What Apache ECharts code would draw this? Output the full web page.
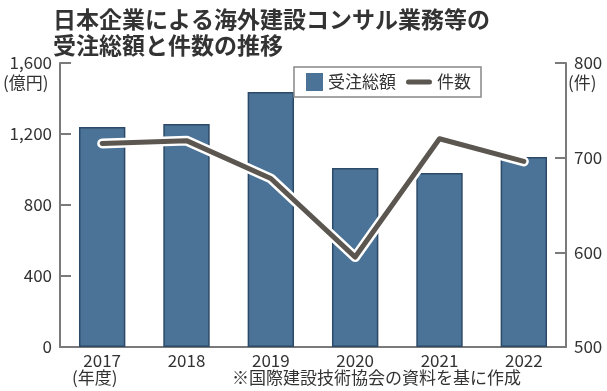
<!DOCTYPE html>
<html><head><meta charset="utf-8">
<script src="https://cdn.jsdelivr.net/npm/echarts@6/dist/echarts.min.js"></script>
<style>html,body{margin:0;padding:0;background:#fff}#c{width:607px;height:391px}</style>
</head><body><div id="c"></div>
<script>
const years = ['2017','2018','2019','2020','2021','2022'];
const orders = [1240, 1256, 1437, 1008, 980, 1070];
const counts = [715, 718, 678, 595, 720, 696];
const leftTicks = [0, 400, 800, 1200, 1600];
const rightTicks = [500, 600, 700, 800];

const FONT = '"Noto Sans CJK JP", "Noto Sans", sans-serif';
const TXT = '#333';
const AX = '#7a7a7a';
const chart = echarts.init(document.getElementById('c'), null, {renderer:'canvas'});
chart.setOption({
  animation:false,
  textStyle:{fontFamily:FONT},
  title:{
    text:'日本企業による海外建設コンサル業務等の\n受注総額と件数の推移',
    left:48, top:1,
    textStyle:{fontFamily:FONT, fontSize:23, fontWeight:'bold', color:'#333', lineHeight:26}
  },
  legend:{
    data:[
      {name:'受注総額', icon:'path://M0,9L0.01,9L0.01,9.01Z M9,0L26,0L26,18L9,18Z', itemStyle:{borderWidth:0}},
      {name:'件数', icon:'path://M0,0L0.01,0L0.01,0.01Z M2.5,6.5L23.5,6.5A2.5,2.5 0 0 1 23.5,11.5L2.5,11.5A2.5,2.5 0 0 1 2.5,6.5Z M26,18L25.99,18L25.99,17.99Z', itemStyle:{borderWidth:0}, lineStyle:{width:0}}
    ],
    itemStyle:{borderWidth:0},
    right:126, top:67,
    itemWidth:26, itemHeight:18, itemGap:10,
    padding:[6,10,6,3],
    borderColor:'#888', borderWidth:1.5, borderRadius:0,
    textStyle:{fontFamily:FONT, fontSize:17, color:TXT}
  },
  grid:{left:60, right:41, top:63, bottom:44},
  xAxis:{
    type:'category', data:years,
    axisLine:{lineStyle:{color:AX, width:2}},
    axisTick:{show:false},
    axisLabel:{fontFamily:FONT, fontSize:17, color:TXT, margin:5}
  },
  yAxis:[{
    type:'value', min:0, max:1600, interval:400, position:'left',
    axisLine:{show:true, lineStyle:{color:AX, width:2}},
    axisTick:{show:true, inside:true, length:11, lineStyle:{color:AX, width:2}},
    splitLine:{show:false},
    axisLabel:{fontFamily:FONT, fontSize:17, color:TXT, margin:8,
      formatter:v=>v.toLocaleString('en-US')}
  },{
    type:'value', min:500, max:800, interval:100, position:'right',
    axisLine:{show:true, lineStyle:{color:AX, width:2}},
    axisTick:{show:true, inside:true, length:11, lineStyle:{color:AX, width:2}},
    splitLine:{show:false},
    axisLabel:{fontFamily:FONT, fontSize:17, color:TXT, margin:8}
  }],
  series:[{
    name:'受注総額', type:'bar', data:orders, barWidth:'55%',
    itemStyle:{color:'#4a7397', borderColor:'#2c4a68', borderWidth:1.5}
  },{
    name:'件数-outline', type:'line', yAxisIndex:1, data:counts,
    symbol:'none', lineStyle:{color:'#fff', width:10, cap:'round', join:'round'}, silent:true
  },{
    name:'件数', type:'line', yAxisIndex:1, data:counts,
    symbol:'none', itemStyle:{color:'#5b5750'},
    lineStyle:{color:'#5b5750', width:5, cap:'round', join:'round'}
  }],
  graphic:[
    {type:'text', left:3, top:74, style:{text:'(億円)', font:'17px '+FONT, fill:TXT}},
    {type:'text', left:568, top:74, style:{text:'(件)', font:'17px '+FONT, fill:TXT}},
    {type:'text', left:72, top:369, style:{text:'(年度)', font:'17px '+FONT, fill:TXT}},
    {type:'text', left:232, top:369, style:{text:'※国際建設技術協会の資料を基に作成', font:'17px '+FONT, fill:TXT}}
  ]
});
</script></body></html>
